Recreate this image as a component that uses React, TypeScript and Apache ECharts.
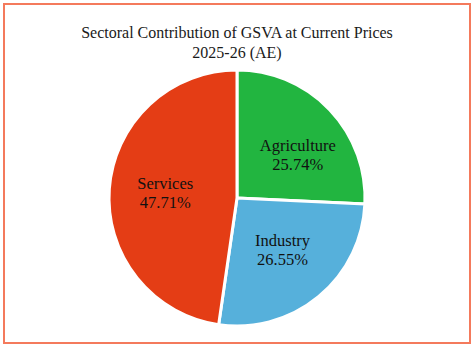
import React, { useEffect, useRef } from "react";
import * as echarts from "echarts";

const sectors = ["Agriculture", "Industry", "Services"];
const shares = [25.74, 26.55, 47.71];
const colors = ["#22b540", "#56b0db", "#e43d15"];
const titleLines = ["Sectoral Contribution of GSVA at Current Prices", "2025-26 (AE)"];

const SERIF = "'Liberation Serif', 'Times New Roman', Times, serif";
const labelNudges: Record<string, [number, number]> = {
  Agriculture: [8, 7],
  Industry: [-1, -4],
  Services: [1, 0],
};

export default function App() {
  const ref = useRef<HTMLDivElement>(null);
  useEffect(() => {
    const chart = echarts.init(ref.current!, null, { renderer: "svg" });
    const data = sectors.map((name, i) => ({ name, value: shares[i], itemStyle: { color: colors[i] } }));
    chart.setOption({
      animation: false,
      textStyle: { fontFamily: SERIF },
      title: {
        text: titleLines.join("\n"),
        left: "center",
        top: 17,
        textStyle: {
          fontFamily: SERIF,
          fontWeight: "normal",
          fontSize: 16,
          lineHeight: 20,
          color: "#1a1a1a",
        },
      },
      graphic: [
        {
          type: "rect",
          shape: { x: 4, y: 4, width: 466, height: 339 },
          style: { fill: "none", stroke: "#f47a5c", lineWidth: 2 },
        },
      ],
      series: [
        {
          type: "pie",
          center: [237, 198],
          radius: [0, 128],
          startAngle: 90,
          clockwise: true,
          data,
          itemStyle: { borderColor: "#ffffff", borderWidth: 3 },
          label: { show: false },
          labelLine: { show: false },
          silent: true,
        },
        {
          type: "pie",
          center: [237, 198],
          radius: [0, 140],
          startAngle: 90,
          clockwise: true,
          data: sectors.map((name, i) => ({
            name,
            value: shares[i],
            label: { offset: labelNudges[name] },
          })),
          itemStyle: { color: "rgba(0,0,0,0)", borderWidth: 0 },
          label: {
            show: true,
            position: "inside",
            formatter: (p: any) => `${p.name}\n${p.value.toFixed(2)}%`,
            fontFamily: SERIF,
            fontSize: 16.5,
            lineHeight: 19,
            color: "#111111",
          },
          labelLine: { show: false },
          silent: true,
          z: 5,
        },
      ],
    });
    return () => chart.dispose();
  }, []);
  return (
    <div
      ref={ref}
      style={{ position: "fixed", left: 0, top: 0, width: 474, height: 350, background: "#ffffff" }}
    />
  );
}
